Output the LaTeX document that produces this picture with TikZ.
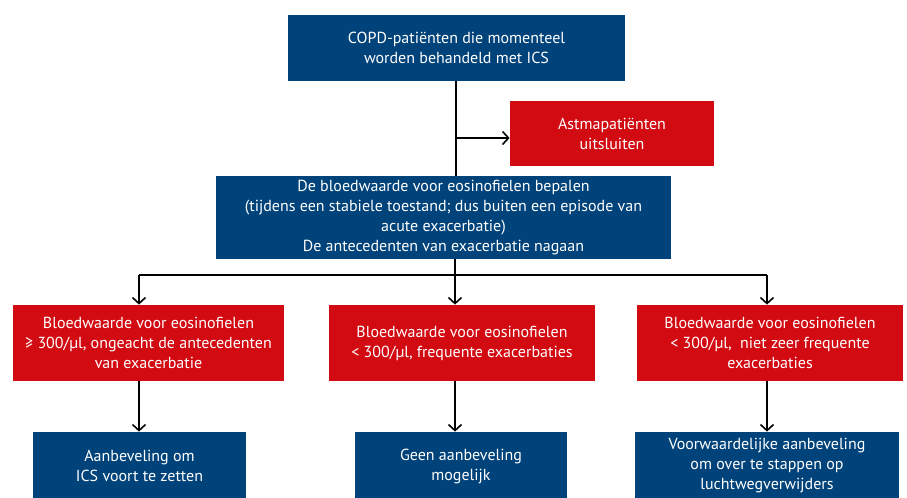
\documentclass[tikz,border=0pt]{standalone}
\usepackage{fontspec}
\setmainfont{PT Sans}
\usetikzlibrary{arrows.meta}
\definecolor{copdblue}{RGB}{0,67,122}
\definecolor{copdred}{RGB}{210,10,18}
\tikzset{
  box/.style={text=white, align=center, inner sep=0pt, font=\fontsize{8}{10}\selectfont},
  bluebox/.style={box, fill=copdblue},
  redbox/.style={box, fill=copdred},
  flow/.style={line width=0.8pt, -{Straight Barb[length=3pt,width=6.5pt]}},
  link/.style={line width=0.8pt}
}
\begin{document}
\begin{tikzpicture}[x=0.5pt,y=-0.5pt]
  \useasboundingbox (0,0) rectangle (907,498);
  \clip (0,0) rectangle (907,498);

  % Start and exclusion
  \node[bluebox, minimum width=168.5pt, minimum height=33pt] (start) at (456.5,48)
    {COPD-patiënten die momenteel\\worden behandeld met ICS};
  \node[redbox, minimum width=102pt, minimum height=32.5pt] (asthma) at (612,133.5)
    {Astmapatiënten\\uitsluiten};

  % Eosinophil count
  \node[bluebox, minimum width=227.5pt, minimum height=41.5pt] (eos) at (443.5,217.5)
    {De bloedwaarde voor eosinofielen bepalen\\
     (tijdens een stabiele toestand; dus buiten een episode van\\
     acute exacerbatie)\\
     De antecedenten van exacerbatie nagaan};

  % Three groups
  \node[redbox, minimum width=135.5pt, minimum height=38pt] (high) at (148.5,343)
    {Bloedwaarde voor eosinofielen\\≥ 300/µl, ongeacht de antecedenten\\van exacerbatie};
  \node[redbox, minimum width=133pt, minimum height=38pt] (lowfreq) at (462,343)
    {Bloedwaarde voor eosinofielen\\< 300/µl, frequente exacerbaties};
  \node[redbox, minimum width=133pt, minimum height=38pt] (lowrare) at (770,343)
    {Bloedwaarde voor eosinofielen\\< 300/µl,\ \ niet zeer frequente\\exacerbaties};

  % Recommendations
  \node[bluebox, minimum width=106.5pt, minimum height=34pt] (keep) at (139.5,466)
    {Aanbeveling om\\ICS voort te zetten};
  \node[bluebox, minimum width=106pt, minimum height=34pt] (none) at (461,466)
    {Geen aanbeveling\\mogelijk};
  \node[bluebox, minimum width=132pt, minimum height=34pt] (switch) at (767,466)
    {Voorwaardelijke aanbeveling\\om over te stappen op\\luchtwegverwijders};

  % Connectors
  \coordinate (branch) at (456,138);
  \coordinate (splitL) at (139,275);
  \coordinate (splitM) at (455,275);
  \coordinate (splitR) at (767,275);

  \draw[link] (start.south -| branch) -- (branch |- eos.north);
  \draw[flow] (branch) -- (branch -| asthma.west);
  \draw[flow] (eos.south -| splitM) -- (splitM |- lowfreq.north);
  \draw[link] (splitL) -- (splitR);
  \draw[flow] (splitL) -- (splitL |- high.north);
  \draw[flow] (splitR) -- (splitR |- lowrare.north);
  \draw[flow] (high.south -| splitL) -- (splitL |- keep.north);
  \draw[flow] (lowfreq.south -| splitM) -- (splitM |- none.north);
  \draw[flow] (lowrare.south -| splitR) -- (splitR |- switch.north);
\end{tikzpicture}
\end{document}
